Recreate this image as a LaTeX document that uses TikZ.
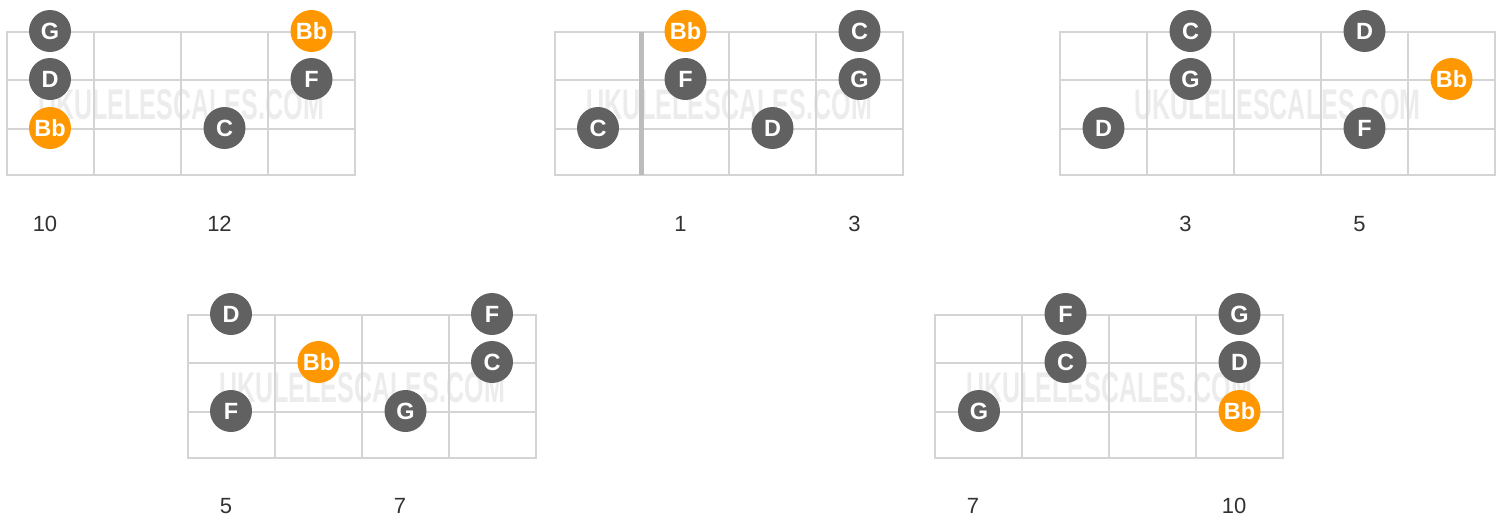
\documentclass[tikz,border=0pt]{standalone}
\usepackage{fontspec}
\setmainfont{Liberation Sans}
\usepackage{graphicx}
\usepackage{tikz}
\definecolor{fretline}{RGB}{212,212,212}
\definecolor{nutline}{RGB}{188,188,188}
\definecolor{notegray}{RGB}{97,97,97}
\definecolor{rootorange}{RGB}{255,152,0}
\definecolor{labelgray}{RGB}{50,50,50}
\definecolor{markgray}{RGB}{236,236,236}
\tikzset{
  note/.style={circle,fill=notegray,text=white,minimum size=42pt,inner sep=0pt,font=\bfseries\fontsize{23.5}{23.5}\selectfont},
  root/.style={note,fill=rootorange},
  fretnum/.style={text=labelgray,font=\fontsize{22}{22}\selectfont},
  wmark/.style={text=markgray,inner sep=0pt,font=\bfseries\fontsize{40}{40}\selectfont},
  wire/.style={fretline,line width=2.7pt,line cap=rect}
}
\newcommand{\fretboard}[4]{
  \pgfmathsetmacro{\bw}{87*#3}
  \node[wmark] (#4wm) at ({#1+\bw/2},{#2+73}) {\resizebox{286pt}{30pt}{UKULELESCALES.COM}};
  \foreach \s in {0,48,97,143}
    \draw[wire] (#1,#2+\s) -- ++(\bw,0);
  \foreach \f in {0,...,#3}
    \draw[wire] (#1+87*\f,#2) -- ++(0,143);
}

\begin{document}
\begin{tikzpicture}[x=1pt,y=-1pt]
\useasboundingbox (0,0) rectangle (1502,520);
\fretboard{7}{32}{4}{a}
\fretboard{555}{32}{4}{b}
\fretboard{1060}{32}{5}{c}
\fretboard{188}{315}{4}{d}
\fretboard{935}{315}{4}{e}
\draw[nutline,line width=5pt] (641,32) -- (641,175);
\node[note] (a11) at (50,31) {G};
\node[root] (a14) at (311.5,31) {Bb};
\node[note] (a21) at (50,79) {D};
\node[note] (a24) at (311.5,79) {F};
\node[root] (a31) at (50,128) {Bb};
\node[note] (a33) at (224.5,128) {C};
\node[fretnum] (a10) at (45,224) {10};
\node[fretnum] (a12) at (219.5,224) {12};
\node[root] (b12) at (685.5,31) {Bb};
\node[note] (b14) at (859.5,31) {C};
\node[note] (b22) at (685.5,79) {F};
\node[note] (b24) at (859.5,79) {G};
\node[note] (b31) at (598,128) {C};
\node[note] (b33) at (772.5,128) {D};
\node[fretnum] (b1) at (680.5,224) {1};
\node[fretnum] (b3) at (854.5,224) {3};
\node[note] (c12) at (1190.5,31) {C};
\node[note] (c14) at (1364.5,31) {D};
\node[note] (c22) at (1190.5,79) {G};
\node[root] (c25) at (1451.5,79) {Bb};
\node[note] (c31) at (1103.5,128) {D};
\node[note] (c34) at (1364.5,128) {F};
\node[fretnum] (c3) at (1185.5,224) {3};
\node[fretnum] (c5) at (1359.5,224) {5};
\node[note] (d11) at (231,314) {D};
\node[note] (d14) at (492,314) {F};
\node[root] (d22) at (318.5,362) {Bb};
\node[note] (d24) at (492,362) {C};
\node[note] (d31) at (231,411) {F};
\node[note] (d33) at (405.5,411) {G};
\node[fretnum] (d5) at (226,506) {5};
\node[fretnum] (d7) at (400,506) {7};
\node[note] (e12) at (1065.5,314) {F};
\node[note] (e14) at (1239.5,314) {G};
\node[note] (e22) at (1065.5,362) {C};
\node[note] (e24) at (1239.5,362) {D};
\node[note] (e31) at (979,411) {G};
\node[root] (e34) at (1239.5,411) {Bb};
\node[fretnum] (e7) at (973,506) {7};
\node[fretnum] (e10) at (1234,506) {10};
\end{tikzpicture}
\end{document}
